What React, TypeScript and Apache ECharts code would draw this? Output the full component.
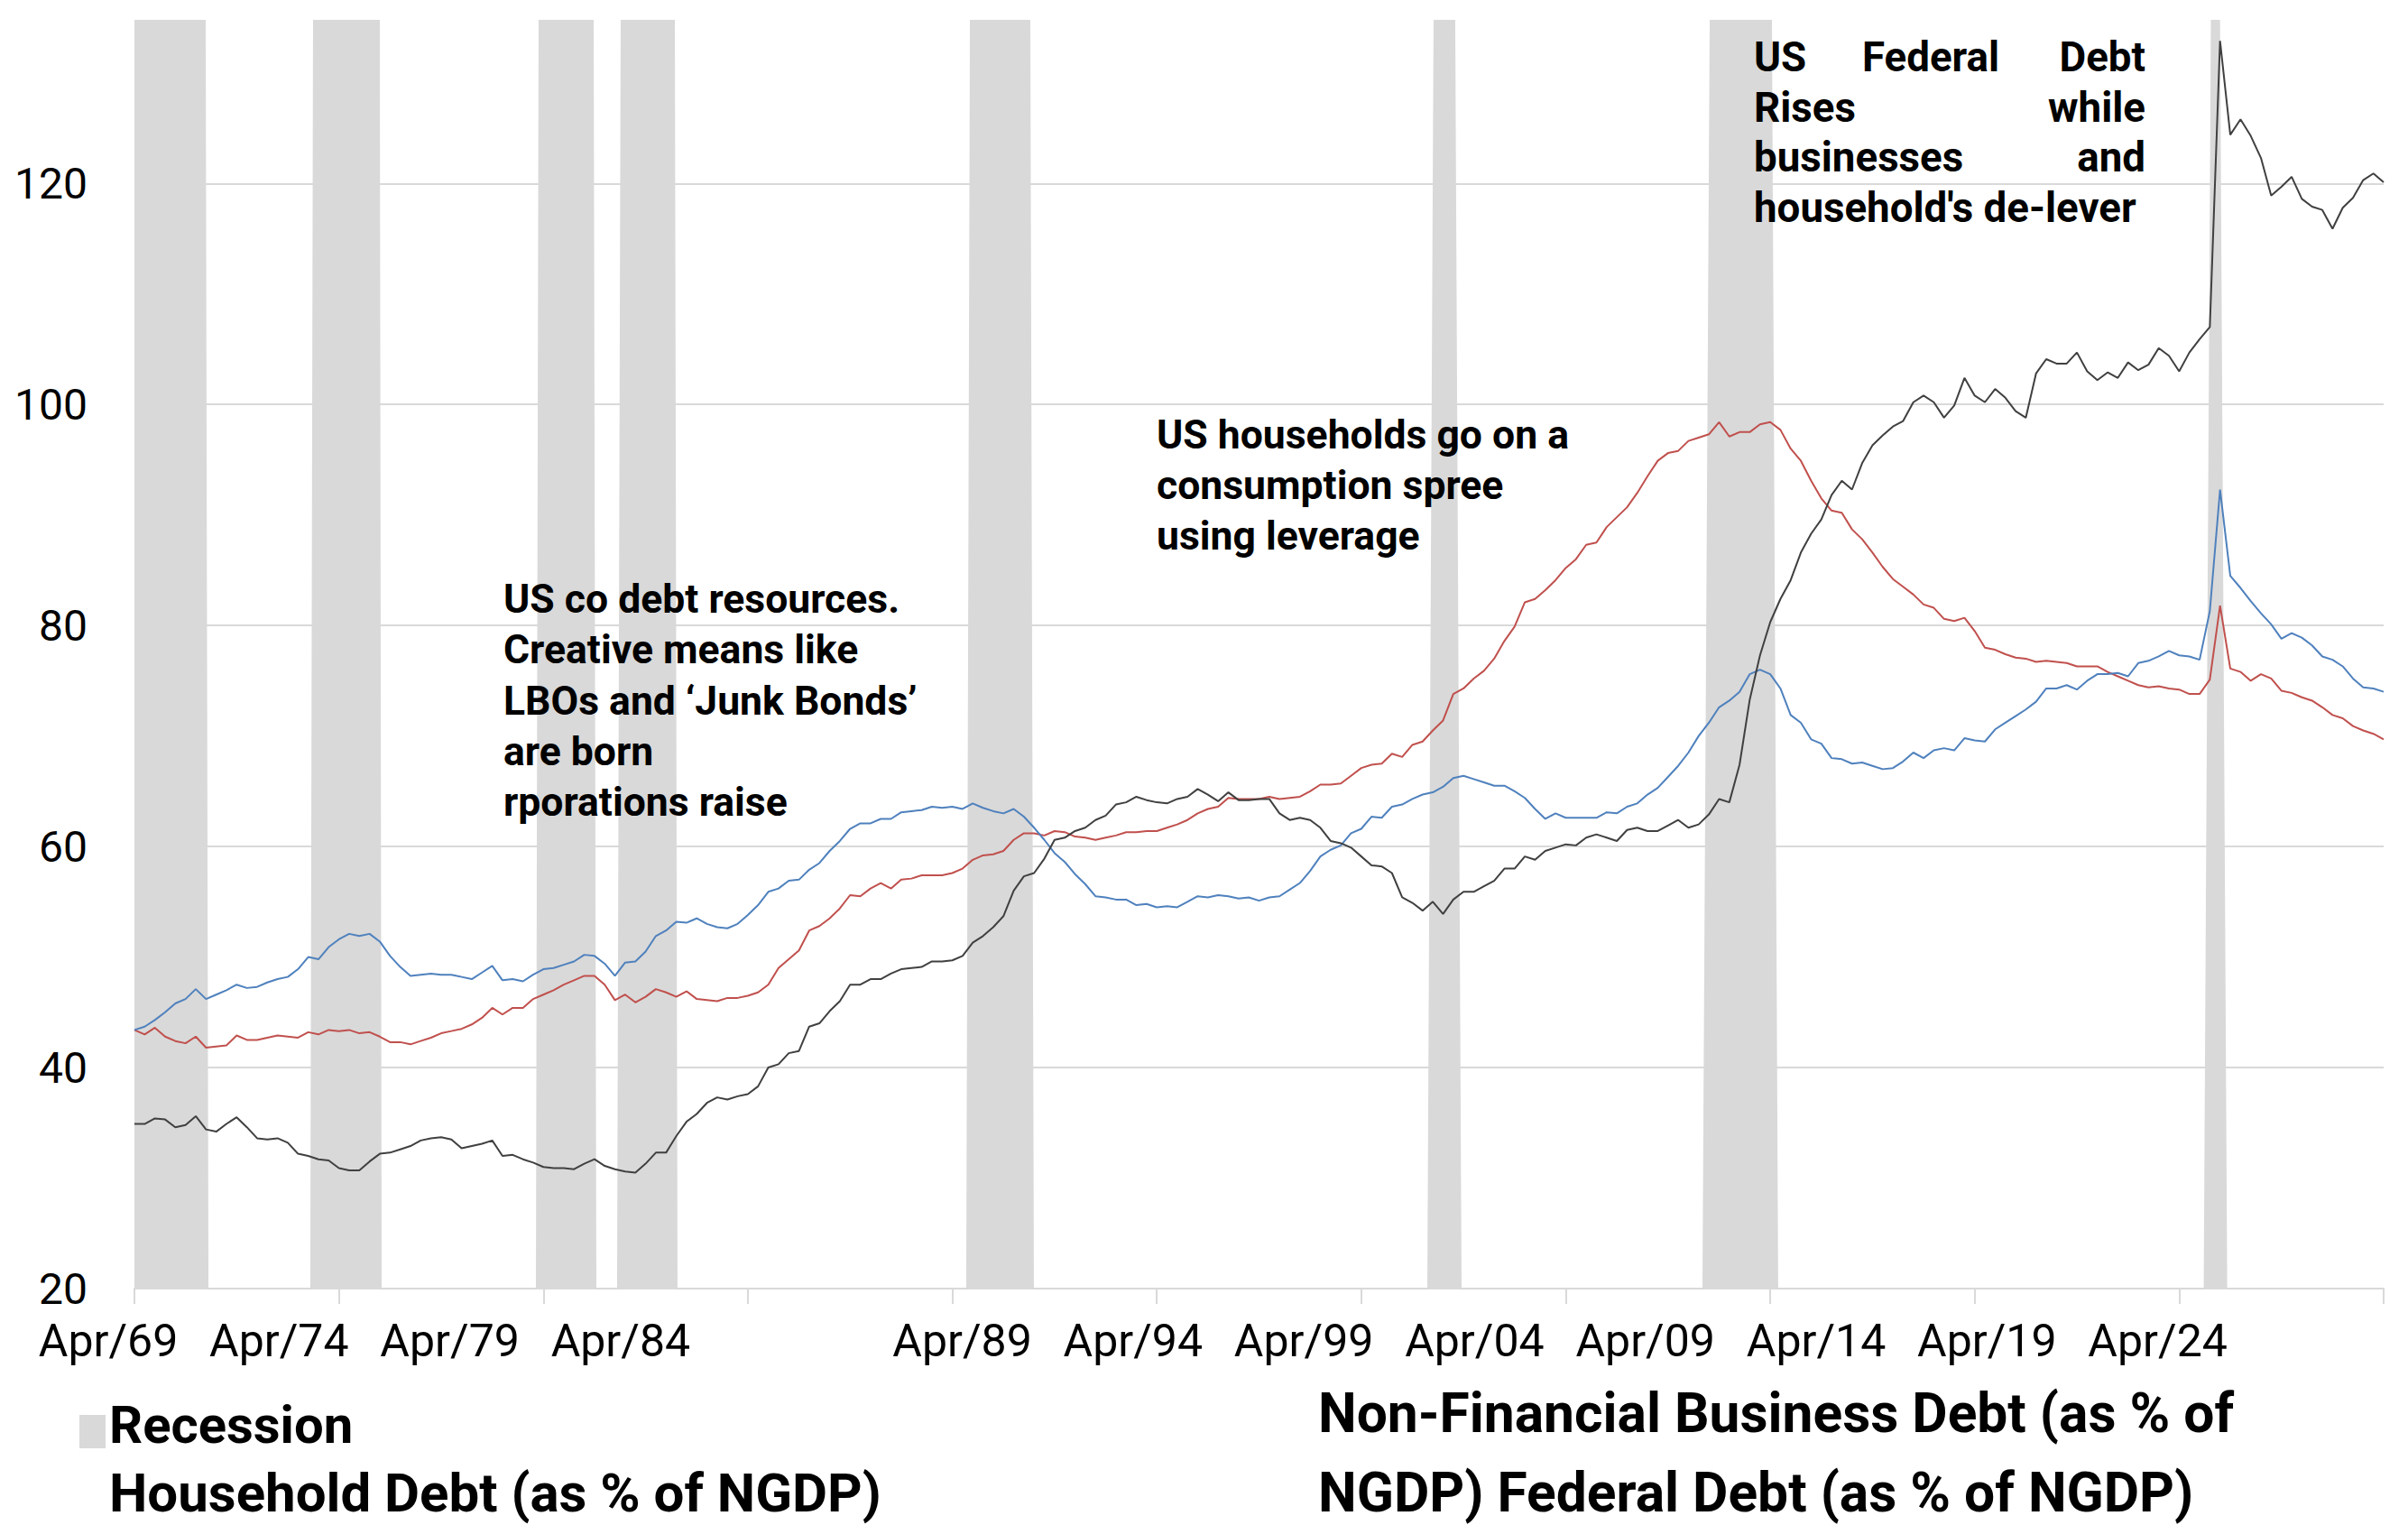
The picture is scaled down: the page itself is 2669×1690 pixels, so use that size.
import React, { useEffect, useRef } from "react";
import * as echarts from "echarts";

// Quarterly values, Apr 1969 (index 0) to Apr 2024 (index 220)
const householdDebt = [
  43.4, 43.0, 43.6, 42.8, 42.4, 42.2, 42.8, 41.8, 41.9, 42.0,
  42.9, 42.5, 42.5, 42.7, 42.9, 42.8, 42.7, 43.2, 43.0, 43.4,
  43.3, 43.4, 43.1, 43.2, 42.8, 42.3, 42.3, 42.1, 42.4, 42.7,
  43.1, 43.3, 43.5, 43.9, 44.5, 45.4, 44.8, 45.4, 45.4, 46.2,
  46.6, 47.0, 47.5, 47.9, 48.3, 48.3, 47.5, 46.1, 46.6, 45.9,
  46.4, 47.1, 46.8, 46.4, 46.9, 46.2, 46.1, 46.0, 46.3, 46.3,
  46.5, 46.8, 47.5, 49.0, 49.8, 50.6, 52.4, 52.8, 53.5, 54.4,
  55.6, 55.5, 56.2, 56.7, 56.2, 57.0, 57.1, 57.4, 57.4, 57.4,
  57.6, 58.0, 58.8, 59.2, 59.3, 59.6, 60.6, 61.2, 61.2, 61.0,
  61.4, 61.3, 60.9, 60.8, 60.6, 60.8, 61.0, 61.3, 61.3, 61.4,
  61.4, 61.7, 62.0, 62.4, 63.0, 63.4, 63.6, 64.4, 64.3, 64.3,
  64.3, 64.5, 64.3, 64.4, 64.5, 65.0, 65.6, 65.6, 65.7, 66.4,
  67.1, 67.4, 67.5, 68.4, 68.1, 69.2, 69.5, 70.5, 71.4, 73.8,
  74.3, 75.2, 75.9, 77.0, 78.6, 79.9, 82.1, 82.4, 83.2, 84.1,
  85.2, 86.0, 87.3, 87.5, 88.9, 89.8, 90.7, 92.0, 93.5, 94.9,
  95.6, 95.8, 96.7, 97.0, 97.3, 98.4, 97.1, 97.5, 97.5, 98.2,
  98.4, 97.7, 96.0, 94.9, 93.1, 91.5, 90.4, 90.2, 88.7, 87.8,
  86.6, 85.3, 84.2, 83.5, 82.8, 81.9, 81.6, 80.6, 80.4, 80.7,
  79.5, 78.0, 77.8, 77.4, 77.1, 77.0, 76.7, 76.8, 76.7, 76.6,
  76.3, 76.3, 76.3, 75.8, 75.4, 75.0, 74.6, 74.4, 74.5, 74.3,
  74.2, 73.8, 73.8, 75.1, 81.8, 76.1, 75.8, 75.0, 75.6, 75.2,
  74.1, 73.9, 73.5, 73.2, 72.6, 71.9, 71.6, 70.9, 70.5, 70.2, 69.7,
];

const businessDebt = [
  43.4, 43.7, 44.3, 45.0, 45.8, 46.2, 47.1, 46.2, 46.6, 47.0,
  47.5, 47.2, 47.3, 47.7, 48.0, 48.2, 48.9, 50.0, 49.8, 50.9,
  51.6, 52.1, 51.9, 52.1, 51.4, 50.1, 49.1, 48.3, 48.4, 48.5,
  48.4, 48.4, 48.2, 48.0, 48.6, 49.2, 47.9, 48.0, 47.8, 48.4,
  48.9, 49.0, 49.3, 49.6, 50.2, 50.1, 49.4, 48.3, 49.5, 49.6,
  50.5, 51.9, 52.4, 53.2, 53.1, 53.5, 53.0, 52.7, 52.6, 53.0,
  53.8, 54.7, 55.9, 56.2, 56.9, 57.0, 57.9, 58.5, 59.6, 60.5,
  61.6, 62.1, 62.1, 62.5, 62.5, 63.1, 63.2, 63.3, 63.6, 63.5,
  63.6, 63.4, 63.9, 63.5, 63.2, 63.0, 63.4, 62.7, 61.7, 60.6,
  59.4, 58.6, 57.5, 56.6, 55.5, 55.4, 55.2, 55.2, 54.7, 54.8,
  54.5, 54.6, 54.5, 55.0, 55.5, 55.4, 55.6, 55.5, 55.3, 55.4,
  55.1, 55.4, 55.5, 56.1, 56.7, 57.8, 59.1, 59.7, 60.1, 61.2,
  61.6, 62.7, 62.6, 63.6, 63.8, 64.3, 64.7, 64.9, 65.4, 66.2,
  66.4, 66.1, 65.8, 65.5, 65.5, 65.0, 64.4, 63.4, 62.5, 63.0,
  62.6, 62.6, 62.6, 62.6, 63.1, 63.0, 63.6, 63.9, 64.7, 65.3,
  66.3, 67.3, 68.5, 70.0, 71.2, 72.6, 73.2, 74.0, 75.6, 76.0,
  75.6, 74.3, 71.9, 71.2, 69.7, 69.3, 68.0, 67.9, 67.5, 67.6,
  67.3, 67.0, 67.1, 67.7, 68.5, 68.0, 68.7, 68.9, 68.7, 69.8,
  69.6, 69.5, 70.6, 71.2, 71.8, 72.4, 73.1, 74.3, 74.3, 74.6,
  74.2, 75.0, 75.6, 75.6, 75.7, 75.4, 76.6, 76.8, 77.2, 77.7,
  77.3, 77.2, 76.9, 81.3, 92.3, 84.5, 83.4, 82.2, 81.1, 80.1,
  78.8, 79.3, 78.9, 78.2, 77.2, 76.9, 76.3, 75.2, 74.4, 74.3, 74.0,
];

const federalDebt = [
  34.9, 34.9, 35.4, 35.3, 34.6, 34.8, 35.6, 34.4, 34.2, 34.9,
  35.5, 34.6, 33.6, 33.5, 33.6, 33.2, 32.2, 32.0, 31.7, 31.6,
  30.9, 30.7, 30.7, 31.5, 32.2, 32.3, 32.6, 32.9, 33.4, 33.6,
  33.7, 33.5, 32.7, 32.9, 33.1, 33.4, 32.0, 32.1, 31.7, 31.4,
  31.0, 30.9, 30.9, 30.8, 31.3, 31.7, 31.1, 30.8, 30.6, 30.5,
  31.3, 32.3, 32.3, 33.8, 35.1, 35.8, 36.8, 37.3, 37.1, 37.4,
  37.6, 38.3, 40.0, 40.3, 41.3, 41.5, 43.7, 44.0, 45.1, 46.0,
  47.5, 47.5, 48.0, 48.0, 48.5, 48.9, 49.0, 49.1, 49.6, 49.6,
  49.7, 50.1, 51.3, 51.9, 52.7, 53.7, 56.0, 57.3, 57.6, 58.9,
  60.6, 60.8, 61.4, 61.7, 62.4, 62.8, 63.8, 64.0, 64.5, 64.2,
  64.0, 63.9, 64.3, 64.5, 65.2, 64.7, 64.1, 64.9, 64.2, 64.2,
  64.3, 64.3, 63.0, 62.4, 62.6, 62.4, 61.7, 60.5, 60.3, 59.9,
  59.1, 58.3, 58.2, 57.6, 55.4, 54.9, 54.2, 55.0, 53.9, 55.2,
  55.9, 55.9, 56.4, 56.9, 58.0, 58.0, 59.1, 58.8, 59.6, 59.9,
  60.2, 60.1, 60.8, 61.1, 60.8, 60.5, 61.5, 61.7, 61.4, 61.4,
  61.9, 62.4, 61.7, 62.0, 62.9, 64.3, 64.0, 67.4, 73.3, 77.3,
  80.3, 82.4, 84.1, 86.6, 88.3, 89.6, 91.8, 93.1, 92.3, 94.7,
  96.3, 97.2, 98.0, 98.5, 100.2, 100.8, 100.2, 98.8, 99.9, 102.4,
  100.8, 100.2, 101.4, 100.6, 99.4, 98.8, 102.8, 104.1, 103.7, 103.7,
  104.7, 103.0, 102.2, 102.9, 102.4, 103.8, 103.1, 103.6, 105.1, 104.4,
  103.0, 104.7, 105.9, 107.0, 132.9, 124.4, 125.8, 124.3, 122.3, 118.9,
  119.7, 120.6, 118.6, 117.9, 117.6, 115.9, 117.8, 118.7, 120.3, 120.9, 120.1,
];

// Recession bands, in quarter indices: [bottom start, top start, top end, bottom end]
const recessions = [
  [0, 0, 6.97, 7.24],
  [17.2, 17.47, 24.0, 24.18],
  [39.27, 39.53, 44.92, 45.18],
  [47.21, 47.56, 52.86, 53.12],
  [81.36, 81.72, 87.63, 87.98],
  [126.46, 127.07, 129.19, 129.81],
  [153.37, 154.08, 160.17, 160.78],
  [202.4, 203.1, 204.0, 204.7],
];

const xTickLabels = [
  "Apr/69", "Apr/74", "Apr/79", "Apr/84", "", "Apr/89", "Apr/94",
  "Apr/99", "Apr/04", "Apr/09", "Apr/14", "Apr/19", "Apr/24",
];

const Y_MIN = 20;
const Y_MAX = 134.8;
const Y_STEP = 20;
const X_STEP = 20;

const FONT = "Roboto, 'Noto Sans', sans-serif";

function txt(text: string, x: number, y: number, size: number, align: string, extra: any = {}) {
  return {
    type: "text",
    x,
    y,
    z: 100,
    zlevel: 0,
    silent: true,
    style: {
      text,
      fontSize: size,
      fontWeight: "bold",
      fontFamily: FONT,
      fill: "#000000",
      textAlign: align,
      align,
      textVerticalAlign: extra.va || "middle",
      verticalAlign: extra.va || "middle",
      lineHeight: extra.lineHeight,
    },
  };
}

export default function App() {
  const ref = useRef<HTMLDivElement>(null);

  useEffect(() => {
    if (!ref.current) return;
    const chart = echarts.init(ref.current, null, { renderer: "svg" });

    const toXY = (arr: number[]) => arr.map((v, i) => [i, v]);
    const recessionPts: number[][] = [];
    recessions.forEach(([a, b, c, d]) => {
      recessionPts.push([a, Y_MIN], [b, Y_MAX], [c, Y_MAX], [d, Y_MIN]);
    });
    const lastIndex = householdDebt.length - 1;

    const grey = "#d9d9d9";

    const option: any = {
      animation: false,
      backgroundColor: "#ffffff",
      grid: [
        { left: 149, right: 27, top: 22, bottom: 262, containLabel: false, outerBoundsMode: "none" },
        { left: 120, width: 189.3 * 13, top: 22, bottom: 262, containLabel: false, outerBoundsMode: "none" },
      ],
      xAxis: [
        {
          type: "value",
          gridIndex: 0,
          min: 0,
          max: lastIndex,
          interval: X_STEP,
          axisLine: { show: true, lineStyle: { color: grey, width: 2 } },
          axisTick: { show: true, length: 17, lineStyle: { color: grey, width: 2 } },
          axisLabel: { show: false },
          splitLine: { show: false },
        },
        {
          type: "value",
          gridIndex: 1,
          min: 0,
          max: 13,
          interval: 1,
          axisLine: { show: false },
          axisTick: { show: false },
          splitLine: { show: false },
          axisLabel: {
            show: true,
            margin: 33,
            showMinLabel: true,
            showMaxLabel: true,
            fontSize: 50,
            fontFamily: FONT,
            color: "#000000",
            formatter: (v: number) => (Number.isInteger(v) && xTickLabels[v] ? xTickLabels[v] : ""),
          },
        },
      ],
      yAxis: [
        {
          type: "value",
          gridIndex: 0,
          min: Y_MIN,
          max: Y_MAX,
          interval: Y_STEP,
          axisLine: { show: false },
          axisTick: { show: false },
          splitLine: { show: true, showMaxLine: false, lineStyle: { color: grey, width: 2 } },
          axisLabel: {
            show: true,
            margin: 52,
            showMaxLabel: false,
            fontSize: 48,
            fontFamily: FONT,
            color: "#000000",
            formatter: (v: number) => (v % Y_STEP === 0 ? String(v) : ""),
          },
        },
        {
          type: "value",
          gridIndex: 1,
          min: Y_MIN,
          max: Y_MAX,
          show: false,
        },
      ],
      series: [
        {
          name: "Recession",
          type: "line",
          xAxisIndex: 0,
          yAxisIndex: 0,
          data: recessionPts,
          symbol: "none",
          lineStyle: { width: 0, opacity: 0 },
          areaStyle: { color: grey, opacity: 1, origin: "start" },
          silent: true,
          z: 1,
        },
        {
          name: "Household Debt (as % of NGDP)",
          type: "line",
          data: toXY(householdDebt),
          symbol: "none",
          lineStyle: { color: "#C0504D", width: 2 },
          z: 3,
        },
        {
          name: "Non-Financial Business Debt (as % of NGDP)",
          type: "line",
          data: toXY(businessDebt),
          symbol: "none",
          lineStyle: { color: "#4F81BD", width: 2 },
          z: 4,
        },
        {
          name: "Federal Debt (as % of NGDP)",
          type: "line",
          data: toXY(federalDebt),
          symbol: "none",
          lineStyle: { color: "#404040", width: 2 },
          z: 5,
        },
      ],
      graphic: {
        elements: [
          // annotations
          txt(
            "US co debt resources.\nCreative means like\nLBOs and \u2018Junk Bonds\u2019\nare born\nrporations raise",
            558, 636, 44.5, "left", { va: "top", lineHeight: 56.3 }
          ),
          txt(
            "US households go on a\nconsumption spree\nusing leverage",
            1282, 454, 44.5, "left", { va: "top", lineHeight: 56 }
          ),
          txt("US", 1944, 63, 45.7, "left"),
          txt("Federal", 2140, 63, 45.7, "center"),
          txt("Debt", 2378, 63, 45.7, "right"),
          txt("Rises", 1944, 119, 45.7, "left"),
          txt("while", 2378, 119, 45.7, "right"),
          txt("businesses", 1944, 174, 45.7, "left"),
          txt("and", 2378, 174, 45.7, "right"),
          txt("household's de-lever", 1944, 230, 45.7, "left"),
          // legend
          {
            type: "rect",
            silent: true,
            z: 100,
            shape: { x: 88, y: 1568, width: 29, height: 37 },
            style: { fill: grey },
          },
          txt("Recession", 121, 1579, 58, "left"),
          txt("Household Debt (as % of NGDP)", 121, 1654, 60, "left"),
          txt("Non-Financial Business Debt (as % of", 1461, 1566, 60.5, "left"),
          txt("NGDP) Federal Debt (as % of NGDP)", 1461, 1654, 60.5, "left"),
        ],
      },
    };

    chart.setOption(option);
    return () => chart.dispose();
  }, []);

  return (
    <div
      ref={ref}
      style={{ position: "absolute", left: 0, top: 0, width: 2669, height: 1690 }}
    />
  );
}
